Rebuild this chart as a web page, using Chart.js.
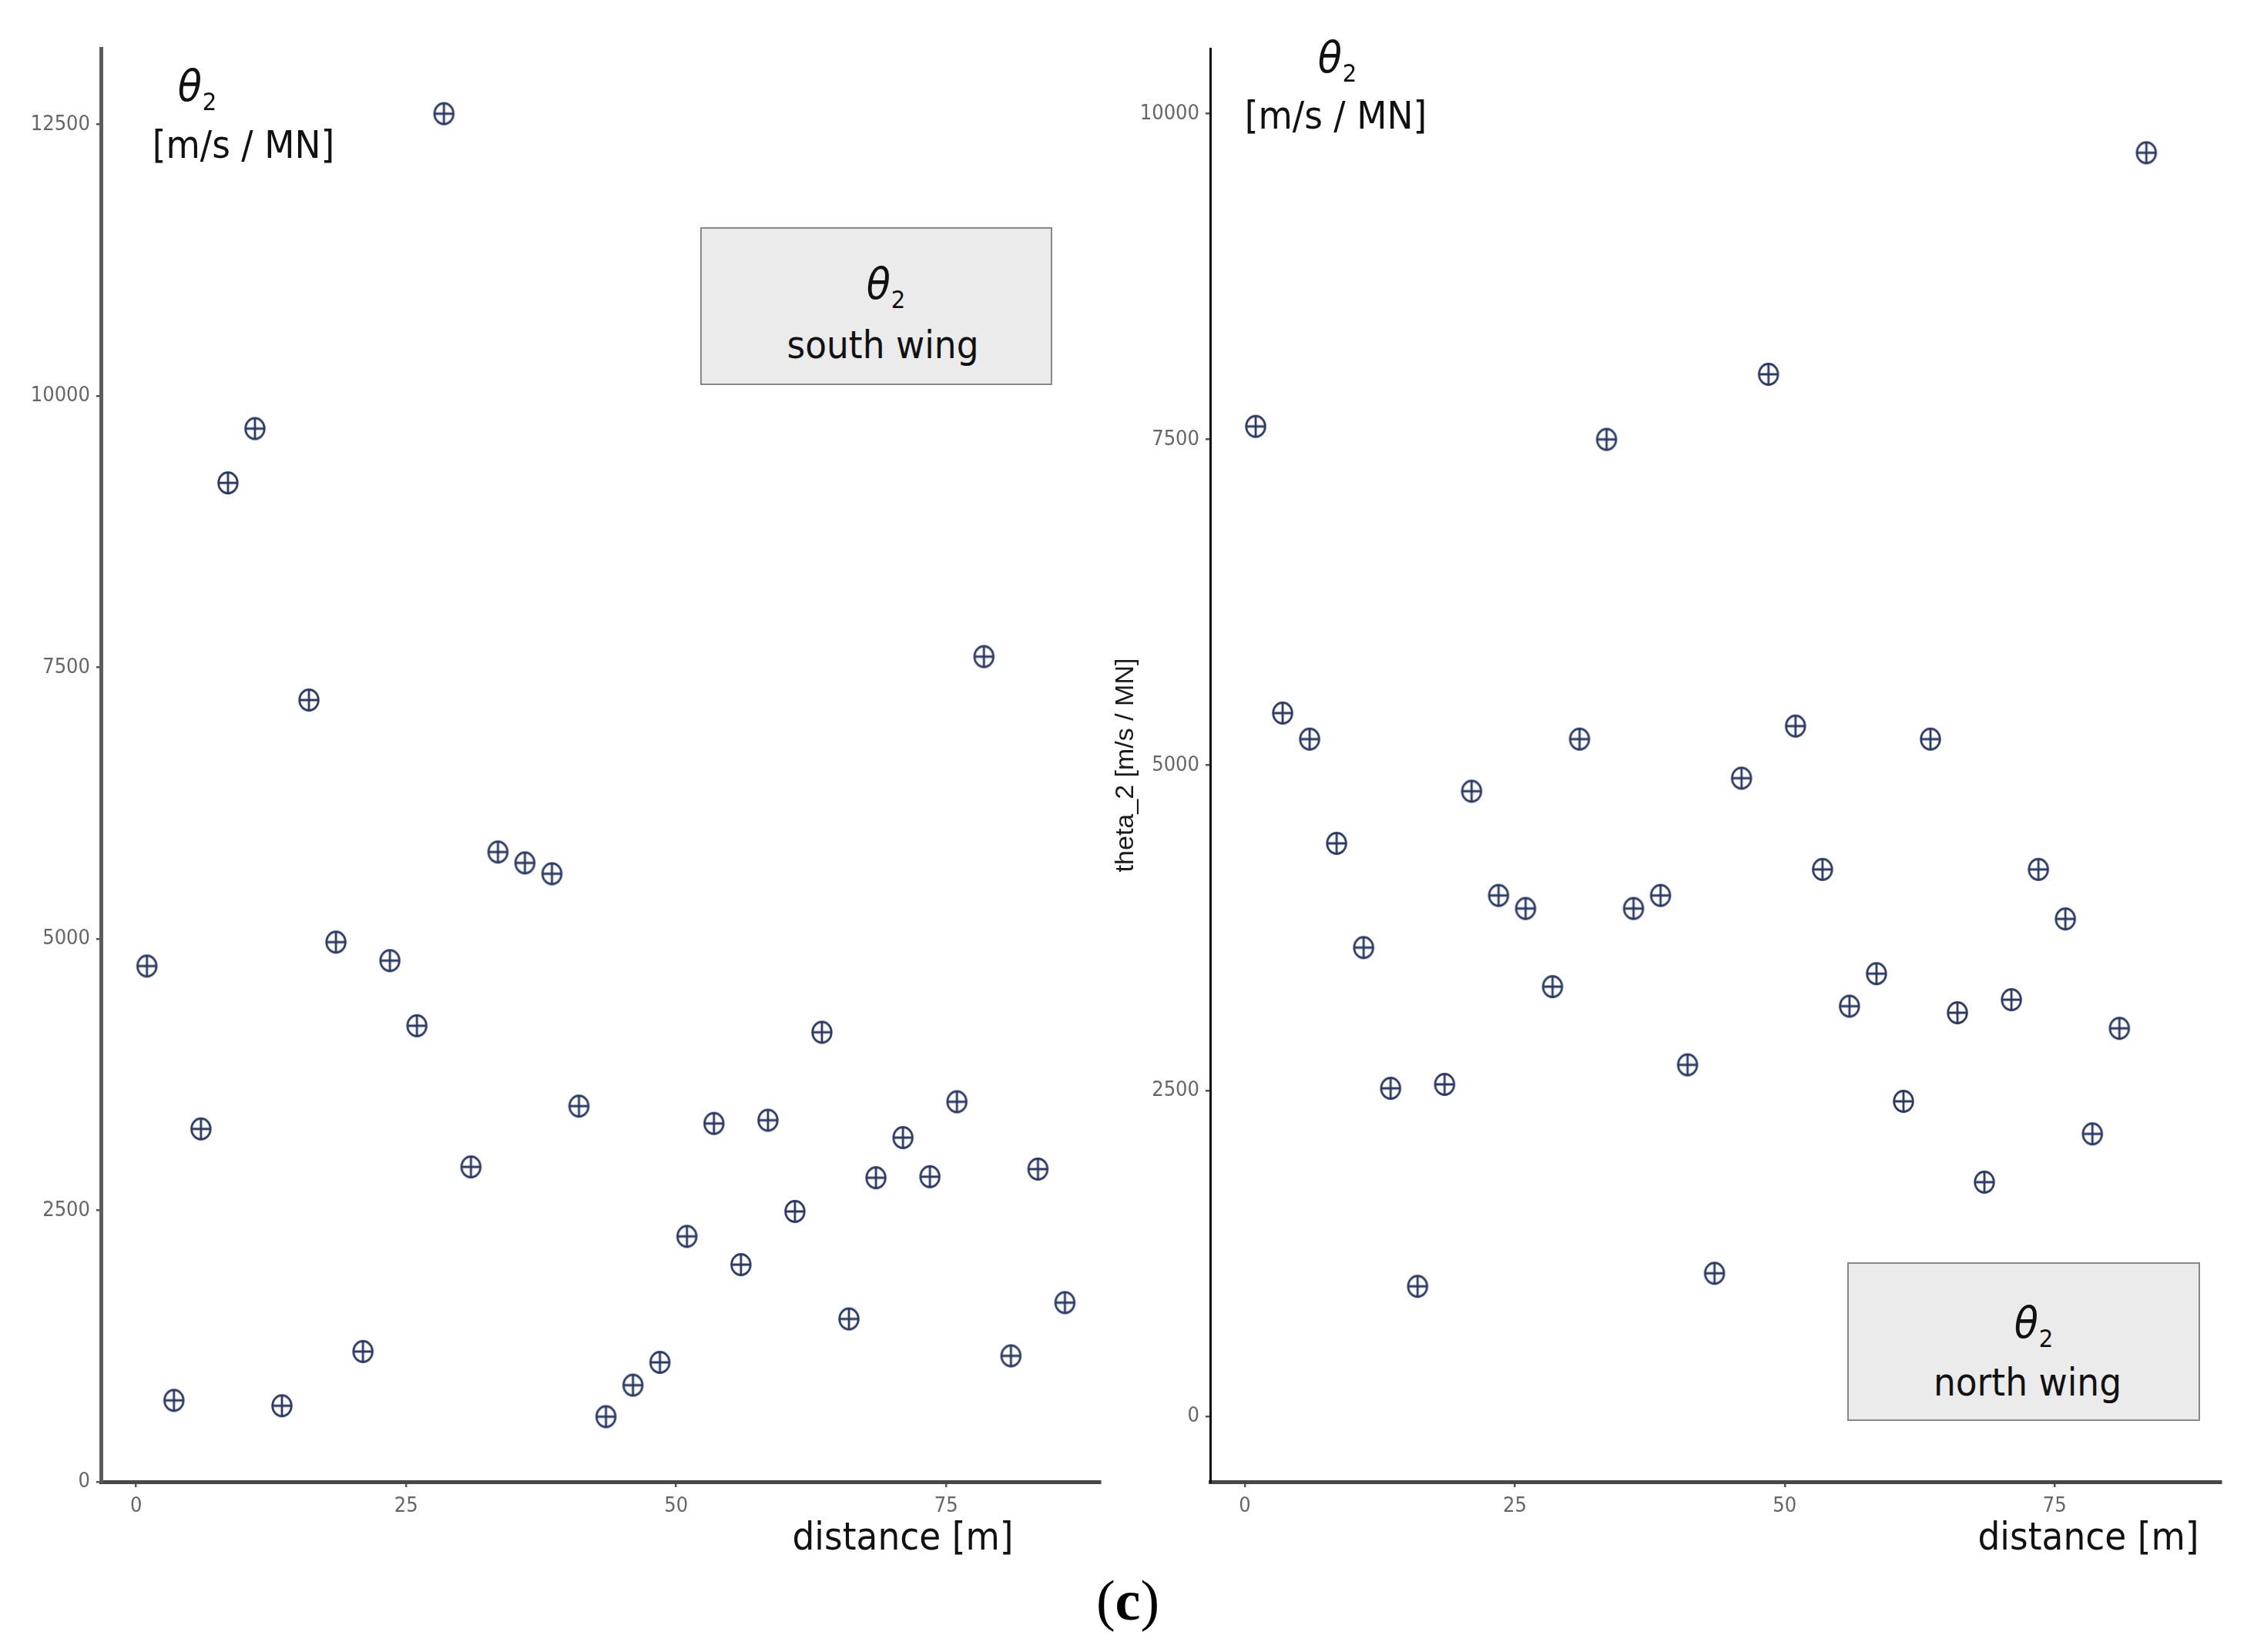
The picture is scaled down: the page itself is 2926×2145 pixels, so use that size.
<!DOCTYPE html>
<html><head><meta charset="utf-8">
<script src="https://cdn.jsdelivr.net/npm/chart.js@4.4.1/dist/chart.umd.min.js"></script>
<style>
html,body{margin:0;padding:0;background:#fff;}
#wrap{position:relative;width:2926px;height:2145px;overflow:hidden;background:#fff;}
canvas.c{position:absolute;left:0;top:0;width:2926px;height:2145px;}
.t{position:absolute;white-space:nowrap;font-family:'DejaVu Sans',sans-serif;color:#111;line-height:1;font-size:50px;transform:translate(-50%,-50%) scaleX(0.91);}
.th{font-style:italic;font-size:56px;}
.sub{font-size:32px;position:relative;top:12px;margin-left:1px;}
.box{position:absolute;background:#ebebeb;border:2.5px solid #888;box-sizing:border-box;}
.cap{position:absolute;white-space:nowrap;font-family:'Liberation Serif','Times New Roman',serif;font-size:74px;line-height:1;color:#000;transform:translate(-50%,-50%);}
</style></head>
<body><div id="wrap">
<canvas id="south" class="c" width="2926" height="2145"></canvas>
<canvas id="north" class="c" width="2926" height="2145"></canvas>

<div class="t" style="left:256px;top:112px"><span class="th">θ</span><span class="sub">2</span></div>
<div class="t" style="left:316px;top:188px">[m/s / MN]</div>
<div class="box" style="left:909px;top:295px;width:457px;height:205px"></div>
<div class="t" style="left:1150px;top:369px"><span class="th">θ</span><span class="sub">2</span></div>
<div class="t" style="left:1146px;top:448px">south wing</div>
<div class="t" style="left:1172px;top:1995px">distance [m]</div>

<div class="t" style="left:1736px;top:75px"><span class="th">θ</span><span class="sub">2</span></div>
<div class="t" style="left:1734px;top:150px">[m/s / MN]</div>
<div class="box" style="left:2398px;top:1639px;width:458px;height:206px"></div>
<div class="t" style="left:2640px;top:1718px"><span class="th">θ</span><span class="sub">2</span></div>
<div class="t" style="left:2632px;top:1795px">north wing</div>
<div class="t" style="left:2711px;top:1995px">distance [m]</div>

<div class="cap" style="left:1464px;top:2078px">(<b>c</b>)</div>
</div>
<script>
// ---- data ----
const southDistance = [1,3.5,6,8.5,11,13.5,16,18.5,21,23.5,26,28.5,31,33.5,36,38.5,41,43.5,46,48.5,51,53.5,56,58.5,61,63.5,66,68.5,71,73.5,76,78.5,81,83.5,86];
const southTheta2 = [4750,750,3250,9200,9700,700,7200,4970,1200,4800,4200,12600,2900,5800,5700,5600,3460,600,890,1100,2260,3300,2000,3330,2490,4140,1500,2800,3170,2810,3500,7600,1160,2880,1650];
const northDistance = [1,3.5,6,8.5,11,13.5,16,18.5,21,23.5,26,28.5,31,33.5,36,38.5,41,43.5,46,48.5,51,53.5,56,58.5,61,63.5,66,68.5,71,73.5,76,78.5,81,83.5];
const northTheta2 = [7600,5400,5200,4400,3600,2520,1000,2550,4800,4000,3900,3300,5200,7500,3900,4000,2700,1100,4900,8000,5300,4200,3150,3400,2420,5200,3100,1800,3200,4200,3820,2170,2980,9700];
const xTickValues = [0,25,50,75];
const southYTicks = [0,2500,5000,7500,10000,12500];
const northYTicks = [0,2500,5000,7500,10000];
const northYTitle = 'theta_2 [m/s / MN]';

// ---- marker: circle with plus ----
const marker = document.createElement('canvas');
marker.width = 30; marker.height = 32;
(function(){
  const g = marker.getContext('2d');
  g.strokeStyle = '#2a3a64'; g.lineWidth = 2.8;
  g.beginPath(); g.ellipse(15,16,12.3,13.5,0,0,Math.PI*2); g.stroke();
  g.beginPath(); g.moveTo(2.7,16); g.lineTo(27.3,16); g.moveTo(15,2.5); g.lineTo(15,29.5); g.stroke();
})();

const tickFont = {family:"'DejaVu Sans Condensed','DejaVu Sans',sans-serif", size:27};

function makeChart(id, xs, ys, yTicks, cfg){
  const pts = xs.map((x,i)=>({x:x, y:ys[i]}));
  return new Chart(document.getElementById(id), {
    type:'scatter',
    data:{datasets:[{data:pts, pointStyle:marker, pointRadius:14, pointHoverRadius:14}]},
    options:{
      responsive:false, animation:false, events:[],
      layout:{padding:cfg.padding},
      plugins:{legend:{display:false}, tooltip:{enabled:false}},
      scales:{
        x:{type:'linear', min:cfg.xmin, max:cfg.xmax,
          afterBuildTicks:s=>{ s.ticks = xTickValues.map(v=>({value:v})); },
          afterFit:s=>{ s.height = 100; },
          grid:{display:true, drawOnChartArea:false, drawTicks:true, tickLength:7, color:'#555', lineWidth:2.5},
          border:{display:true, color:'#474747', width:5},
          ticks:{font:tickFont, color:'#666', padding:9, maxRotation:0, autoSkip:false, callback:v=>String(v)}
        },
        y:{type:'linear', min:cfg.ymin, max:cfg.ymax,
          afterBuildTicks:s=>{ s.ticks = yTicks.map(v=>({value:v})); },
          afterFit:s=>{ s.width = cfg.yw; },
          grid:{display:true, drawOnChartArea:false, drawTicks:true, tickLength:6, color:'#555', lineWidth:2.5},
          border:{display:true, color:cfg.ycolor, width:cfg.ywidth},
          title:cfg.ytitle ? {display:true, text:cfg.ytitle, color:'#1a1a1a', padding:0,
                 font:{family:"'Liberation Sans',Arial,sans-serif", size:34}} : {display:false},
          ticks:{font:tickFont, color:'#666', padding:8, autoSkip:false, callback:v=>String(v)}
        }
      }
    }
  });
}

makeChart('south', southDistance, southTheta2, southYTicks, {
  padding:{left:41, right:1498, top:63, bottom:121},
  xmin:-3.26, xmax:89.25, ymin:0, ymax:13200, yw:90, ycolor:'#5c5c5c', ywidth:5
});
makeChart('north', northDistance, northTheta2, northYTicks, {
  padding:{left:1441, right:43, top:63, bottom:121},
  xmin:-3.21, xmax:90.4, ymin:-500, ymax:10500, yw:130, ycolor:'#111', ywidth:3,
  ytitle:northYTitle
});
</script>
</body></html>
